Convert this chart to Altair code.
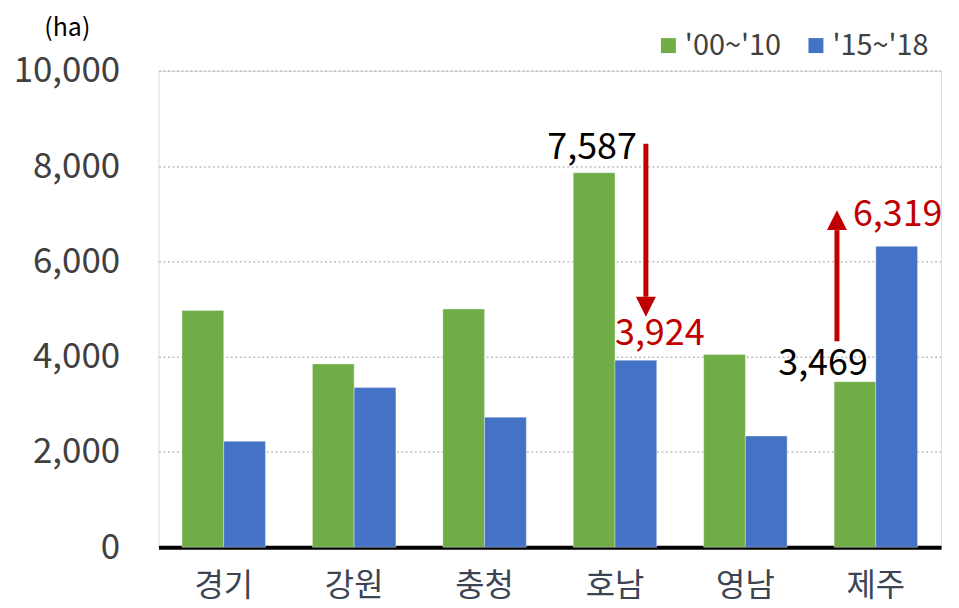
import altair as alt
import pandas as pd

regions = ["경기", "강원", "충청", "호남", "영남", "제주"]
series_names = ["'00~'10", "'15~'18"]
vals_early = [4970, 3845, 5000, 7860, 4045, 3475]
vals_late = [2225, 3350, 2730, 3925, 2335, 6315]
colors = ["#70AD47", "#4472C4"]
y_ticks = [0, 2000, 4000, 6000, 8000, 10000]

# annotations (text labels shown on the picture)
ann_region = ["호남", "호남", "제주", "제주"]
ann_y = [8380, 4472, 3845, 6975]
ann_text = ["7,587", "3,924", "3,469", "6,319"]
ann_color = ["#000000", "#C00000", "#000000", "#C00000"]

# arrows: region, tail value, head-base value, head-centre value
arr_region = ["호남", "제주"]
arr_tail = [8468, 4322]
arr_base = [5256, 6656]
arr_head = [5047, 6865]
arr_shape = ["M-1,-1L1,-1L0,1Z", "M-1,1L1,1L0,-1Z"]

FONT = "Noto Sans CJK KR"
RED = "#C00000"

rows = []
for r, a, b in zip(regions, vals_early, vals_late):
    rows.append({"region": r, "series": series_names[0], "value": a})
    rows.append({"region": r, "series": series_names[1], "value": b})
bars_df = pd.DataFrame(rows)

ann_df = pd.DataFrame({"region": ann_region, "y": ann_y, "label": ann_text, "color": ann_color})
arr_df = pd.DataFrame({"region": arr_region, "tail": arr_tail, "base": arr_base, "head": arr_head})

x_scale = alt.Scale(domain=regions, paddingInner=0.36, paddingOuter=0.18)
y_scale = alt.Scale(domain=[0, 10000], nice=False)

x_enc = alt.X("region:N", scale=x_scale, sort=regions,
              axis=alt.Axis(title=None, labelAngle=0, labelFontSize=32, labelColor="#3B4453",
                            labelFont=FONT, labelPadding=23, ticks=False,
                            domainColor="#000000", domainWidth=4))

bars = alt.Chart(bars_df).mark_bar(stroke="#ffffff", strokeOpacity=0.35, strokeWidth=1).encode(
    x=x_enc,
    xOffset=alt.XOffset("series:N", sort=series_names, scale=alt.Scale(paddingInner=0)),
    y=alt.Y("value:Q", scale=y_scale,
            axis=alt.Axis(title="(ha)", titleAngle=0, titleFontSize=25, titleFont=FONT,
                          titleFontWeight="normal", titleColor="#000000",
                          titleX=-92, titleY=-43, titleAlign="center", titleBaseline="middle",
                          values=y_ticks, format=",.0f", labelFontSize=35, labelFont=FONT,
                          labelColor="#404040", labelPadding=39, ticks=False, domain=False,
                          grid=True, gridColor="#BFBFBF", gridDash=[2, 2.5], gridWidth=1.5)),
    color=alt.Color("series:N", sort=series_names,
                    scale=alt.Scale(domain=series_names, range=colors),
                    legend=alt.Legend(title=None, orient="none", legendX=497, legendY=-40,
                                      direction="horizontal", symbolType="square",
                                      symbolSize=225, symbolStrokeWidth=0,
                                      labelFontSize=29, labelFont=FONT, labelColor="#404040",
                                      labelOffset=2, columnPadding=20, padding=0)),
)

def ann_layer(i, align, dx):
    d = ann_df.iloc[[i]]
    return alt.Chart(d).mark_text(align=align, baseline="middle", dx=dx, fontSize=36,
                                  font=FONT, color=ann_color[i]).encode(
        x=alt.X("region:N", scale=x_scale, sort=regions),
        y=alt.Y("y:Q", scale=y_scale),
        text="label:N",
    )

texts = [
    ann_layer(0, "right", 22),
    ann_layer(1, "left", 0),
    ann_layer(2, "right", -8),
    ann_layer(3, "left", -23),
]

arrow_layers = []
for i, off in enumerate([31, -39]):
    d = arr_df.iloc[[i]]
    shaft = alt.Chart(d).mark_rule(color=RED, strokeWidth=5, xOffset=off).encode(
        x=alt.X("region:N", scale=x_scale, sort=regions),
        y=alt.Y("tail:Q", scale=y_scale),
        y2="base:Q",
    )
    head = alt.Chart(d).mark_point(shape=arr_shape[i], size=400, filled=True, opacity=1,
                                   color=RED, strokeWidth=0, xOffset=off).encode(
        x=alt.X("region:N", scale=x_scale, sort=regions),
        y=alt.Y("head:Q", scale=y_scale),
    )
    arrow_layers += [shaft, head]

chart = alt.layer(bars, *arrow_layers, *texts).properties(
    width=785, height=478,
    autosize=alt.AutoSizeParams(type="none"),
    padding={"left": 151, "top": 62, "right": 10, "bottom": 58},
).configure_view(stroke=None).configure(font=FONT)

chart.save("out.html", embed_options={"renderer": "svg", "actions": False})
